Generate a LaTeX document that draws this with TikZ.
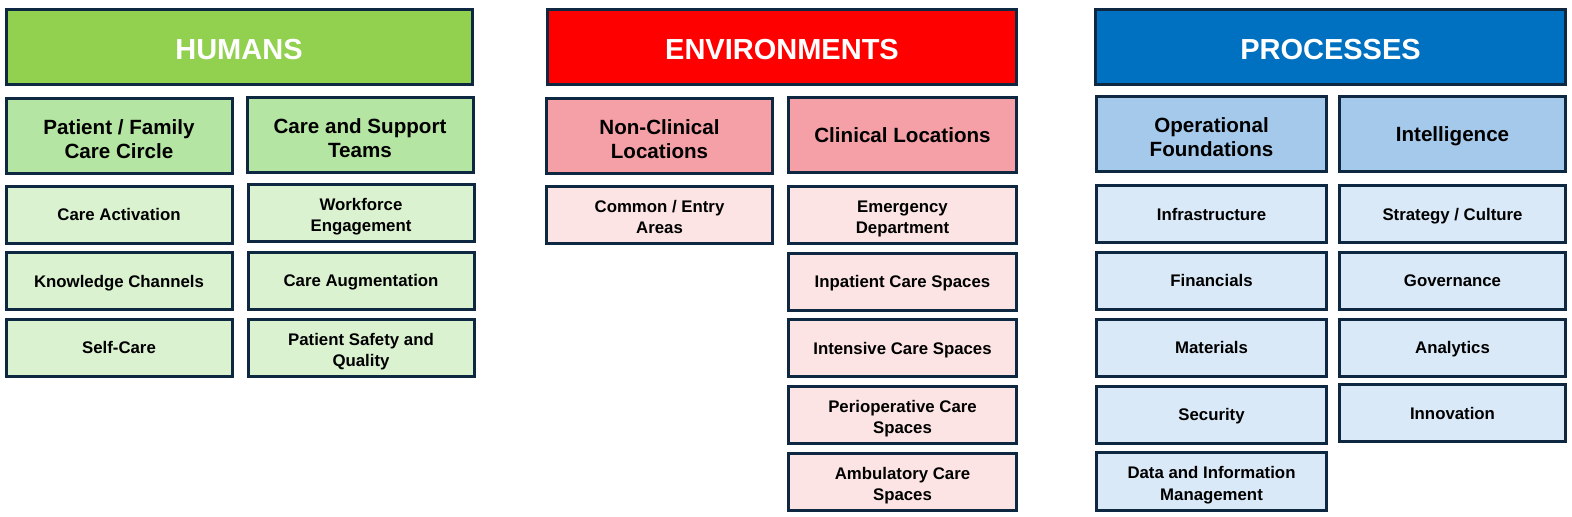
\documentclass[tikz,border=0pt]{standalone}
\usepackage{fontspec}
\setmainfont{Liberation Sans}
\usetikzlibrary{positioning}
\definecolor{boxline}{RGB}{14,40,65}
\definecolor{humgreen}{RGB}{146,208,80}
\definecolor{humsub}{RGB}{180,229,162}
\definecolor{humitem}{RGB}{218,242,208}
\definecolor{envred}{RGB}{255,0,0}
\definecolor{envsub}{RGB}{244,160,166}
\definecolor{envitem}{RGB}{252,228,228}
\definecolor{problue}{RGB}{0,112,192}
\definecolor{prosub}{RGB}{165,201,235}
\definecolor{proitem}{RGB}{218,233,248}
\newcommand{\twolines}[2]{\begin{tabular}[t]{@{}c@{}}#1\\#2\end{tabular}}

\begin{document}
\begin{tikzpicture}[x=0.5pt,y=-0.5pt,
  header/.style={rectangle, draw=boxline, line width=1.5pt, minimum width=233pt, minimum height=37.5pt, text=white, font=\fontsize{14.5}{17}\selectfont\bfseries, text height=12.4pt, text depth=0pt},
  subhead/.style={rectangle, draw=boxline, line width=1.5pt, minimum width=113pt, minimum height=37.5pt, inner sep=0pt, font=\fontsize{10.3}{12}\selectfont\bfseries, text height=7.4pt, text depth=0pt},
  twohead/.style={subhead, text height=10.4pt, text depth=12pt},
  item/.style={rectangle, draw=boxline, line width=1.5pt, minimum width=113pt, minimum height=28.5pt, inner sep=0pt, font=\fontsize{8.4}{10.5}\selectfont\bfseries, text height=6pt, text depth=0pt},
  twoitem/.style={item, text height=8pt, text depth=10.5pt}]
\useasboundingbox (0,0) rectangle (1572,517);

% Humans
\node[header, fill=humgreen] (humans) at (239,47) {HUMANS};
\node[twohead, fill=humsub] (family) at (119,136) {\twolines{Patient / Family}{Care Circle}};
\node[twohead, fill=humsub] (teams) at (360,135) {\twolines{Care and Support}{Teams}};
\node[item, fill=humitem] (activation) at (119,215) {Care Activation};
\node[item, fill=humitem] (knowledge) at (119,281.5) {Knowledge Channels};
\node[item, fill=humitem] (selfcare) at (119,348) {Self-Care};
\node[twoitem, fill=humitem] (workforce) at (361,213) {\twolines{Workforce}{Engagement}};
\node[item, fill=humitem] (augmentation) at (361,281) {Care Augmentation};
\node[twoitem, fill=humitem] (safety) at (361,348) {\twolines{Patient Safety and}{Quality}};

% Environments
\node[header, fill=envred, minimum width=234.5pt] (environments) at (782,47) {ENVIRONMENTS};
\node[twohead, fill=envsub] (nonclinical) at (659.5,136) {\twolines{Non-Clinical}{Locations}};
\node[subhead, fill=envsub, minimum width=114pt] (clinical) at (902.5,135) {Clinical Locations};
\node[twoitem, fill=envitem] (common) at (659.5,215) {\twolines{Common / Entry}{Areas}};
\node[twoitem, fill=envitem, minimum width=114pt] (emergency) at (902.5,215) {\twolines{Emergency}{Department}};
\node[item, fill=envitem, minimum width=114pt] (inpatient) at (902.5,282) {Inpatient Care Spaces};
\node[item, fill=envitem, minimum width=114pt] (intensive) at (902.5,348.5) {Intensive Care Spaces};
\node[twoitem, fill=envitem, minimum width=114pt] (periop) at (902.5,415) {\twolines{Perioperative Care}{Spaces}};
\node[twoitem, fill=envitem, minimum width=114pt] (ambulatory) at (902.5,482) {\twolines{Ambulatory Care}{Spaces}};

% Processes
\node[header, fill=problue, minimum width=235pt] (processes) at (1330.5,47) {PROCESSES};
\node[twohead, fill=prosub, minimum width=115pt] (operational) at (1211.5,134.5) {\twolines{Operational}{Foundations}};
\node[subhead, fill=prosub] (intelligence) at (1452.5,134.5) {Intelligence};
\node[item, fill=proitem, minimum width=115pt] (infrastructure) at (1211.5,214.5) {Infrastructure};
\node[item, fill=proitem, minimum width=115pt] (financials) at (1211.5,281) {Financials};
\node[item, fill=proitem, minimum width=115pt] (materials) at (1211.5,348) {Materials};
\node[item, fill=proitem, minimum width=115pt] (security) at (1211.5,415) {Security};
\node[twoitem, fill=proitem, minimum width=115pt] (datamgmt) at (1211.5,481.5) {\twolines{Data and Information}{Management}};
\node[item, fill=proitem] (strategy) at (1452.5,214.5) {Strategy / Culture};
\node[item, fill=proitem] (governance) at (1452.5,281) {Governance};
\node[item, fill=proitem] (analytics) at (1452.5,348) {Analytics};
\node[item, fill=proitem] (innovation) at (1452.5,413.5) {Innovation};
\end{tikzpicture}
\end{document}
